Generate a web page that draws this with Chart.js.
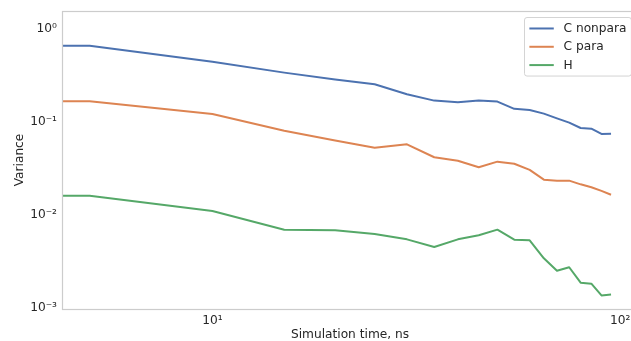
<!DOCTYPE html>
<html><head><meta charset="utf-8">
<script src="https://cdn.jsdelivr.net/npm/chart.js@4.4.1/dist/chart.umd.min.js"></script>
<style>html,body{margin:0;padding:0;overflow:hidden;background:#fff}#wrap{width:645px;height:341px;position:relative}</style>
</head><body><div id="wrap"><canvas id="c"></canvas></div>
<script>
// Simulation time (ns); first entry sits just left of the visible axis edge
const timeNs = [4.2, 5, 10, 15, 20, 25, 30, 35, 40, 45, 50, 55, 60, 65, 70, 75, 80, 85, 90, 95];
const cNonpara = [0.678, 0.678, 0.456, 0.348, 0.294, 0.261, 0.204, 0.174, 0.167, 0.175, 0.170, 0.142, 0.138, 0.126, 0.112, 0.101, 0.0883, 0.0869, 0.0762, 0.0767];
const cPara = [0.171, 0.171, 0.125, 0.0826, 0.0649, 0.0542, 0.0590, 0.0428, 0.0393, 0.0334, 0.0384, 0.0365, 0.0313, 0.0246, 0.0240, 0.0240, 0.0219, 0.0204, 0.0186, 0.0169];
const hVals = [0.0165, 0.0165, 0.0113, 0.00713, 0.00703, 0.00640, 0.00561, 0.00464, 0.00561, 0.00620, 0.00713, 0.00556, 0.00548, 0.00351, 0.00258, 0.00281, 0.00192, 0.00187, 0.00140, 0.00143];
const seriesNames = ['C nonpara', 'C para', 'H'];
const xTickValues = [10, 100];
const xTickLabels = ['10¹', '10²'];
const yTickValues = [0.001, 0.01, 0.1, 1];
const yTickLabels = ['10⁻³', '10⁻²', '10⁻¹', '10⁰'];

const colors = ['#4C72B0', '#DD8452', '#55A868'];
const textColor = '#262626';
const FONT = {family: "'DejaVu Sans'", size: 12.2};

const toPts = arr => arr.map((v, i) => ({x: timeNs[i], y: v}));
const datasets = [cNonpara, cPara, hVals].map((arr, i) => ({
  label: seriesNames[i], data: toPts(arr), borderColor: colors[i], backgroundColor: colors[i],
  borderWidth: 2, pointRadius: 0, tension: 0, fill: false, borderJoinStyle: 'round'
}));

const framePlugin = {
  id: 'frame',
  afterDatasetsDraw(chart) {
    const {ctx, chartArea: a} = chart;
    ctx.save();
    ctx.strokeStyle = '#cccccc';
    ctx.lineWidth = 1.2;
    ctx.strokeRect(a.left - 0.5, a.top + 0.5, a.right - a.left + 0.5, a.bottom - a.top);
    ctx.restore();
  }
};

const legendPlugin = {
  id: 'mplLegend',
  afterDraw(chart) {
    const {ctx, chartArea: a} = chart;
    const fs = FONT.size;
    ctx.save();
    ctx.font = `${fs}px ${FONT.family}`;
    const ds = chart.data.datasets;
    const maxW = Math.max(...ds.map(d => ctx.measureText(d.label).width));
    const pad = 0.4 * fs, hl = 2 * fs, htp = 0.8 * fs, ls = 0.5 * fs;
    const w = pad + hl + htp + maxW + pad;
    const h = pad * 2 + ds.length * fs + (ds.length - 1) * ls;
    const x0 = Math.round(a.right - 0.5 * fs - w) + 0.5;
    const y0 = Math.round(a.top + 0.5 * fs) + 0.5;
    const r = 2.5;
    ctx.beginPath();
    ctx.moveTo(x0 + r, y0);
    ctx.lineTo(x0 + w - r, y0); ctx.quadraticCurveTo(x0 + w, y0, x0 + w, y0 + r);
    ctx.lineTo(x0 + w, y0 + h - r); ctx.quadraticCurveTo(x0 + w, y0 + h, x0 + w - r, y0 + h);
    ctx.lineTo(x0 + r, y0 + h); ctx.quadraticCurveTo(x0, y0 + h, x0, y0 + h - r);
    ctx.lineTo(x0, y0 + r); ctx.quadraticCurveTo(x0, y0, x0 + r, y0);
    ctx.closePath();
    ctx.fillStyle = 'rgba(255,255,255,0.8)';
    ctx.fill();
    ctx.strokeStyle = 'rgba(204,204,204,0.85)';
    ctx.lineWidth = 1;
    ctx.stroke();
    ds.forEach((d, i) => {
      const cy = y0 + pad + fs / 2 + i * (fs + ls);
      ctx.strokeStyle = d.borderColor;
      ctx.lineWidth = 2;
      ctx.beginPath();
      ctx.moveTo(x0 + pad, cy); ctx.lineTo(x0 + pad + hl, cy);
      ctx.stroke();
      ctx.fillStyle = textColor;
      ctx.textBaseline = 'middle';
      ctx.textAlign = 'left';
      ctx.fillText(d.label, x0 + pad + hl + htp, cy + 0.5);
    });
    ctx.restore();
  }
};

new Chart(document.getElementById('c'), {
  type: 'line',
  data: {datasets},
  plugins: [framePlugin, legendPlugin],
  options: {
    responsive: true, maintainAspectRatio: false, animation: false,
    layout: {padding: {top: 11, right: 8, left: 0, bottom: 0}},
    plugins: {legend: {display: false}, tooltip: {enabled: false}},
    scales: {
      x: {
        type: 'logarithmic', min: 4.3, max: 110,
        grid: {display: false, drawTicks: false}, border: {display: false},
        afterBuildTicks: s => { s.ticks = xTickValues.map(v => ({value: v, major: true})); },
        afterFit: s => { s.height = 32; s.paddingLeft = 0; s.paddingRight = 0; },
        ticks: {font: FONT, color: textColor, padding: 5, maxRotation: 0, autoSkip: false,
          callback: v => { const i = xTickValues.indexOf(v); return i >= 0 ? xTickLabels[i] : ''; }},
        title: {display: true, text: 'Simulation time, ns', font: FONT, color: textColor, padding: {top: 0, bottom: -1.5}}
      },
      y: {
        type: 'logarithmic', min: 0.001, max: 1.6,
        grid: {display: false, drawTicks: false}, border: {display: false},
        afterBuildTicks: s => { s.ticks = yTickValues.map(v => ({value: v, major: true})); },
        afterFit: s => { s.width = 63; s.paddingTop = 0; s.paddingBottom = 0; },
        ticks: {font: FONT, color: textColor, padding: 6, autoSkip: false, labelOffset: -1.5,
          callback: v => { const i = yTickValues.findIndex(t => Math.abs(t - v) / t < 1e-6); return i >= 0 ? yTickLabels[i] : ''; }},
        title: {display: true, text: 'Variance', font: FONT, color: textColor, padding: {top: 13, bottom: 0}}
      }
    }
  }
});
</script></body></html>
